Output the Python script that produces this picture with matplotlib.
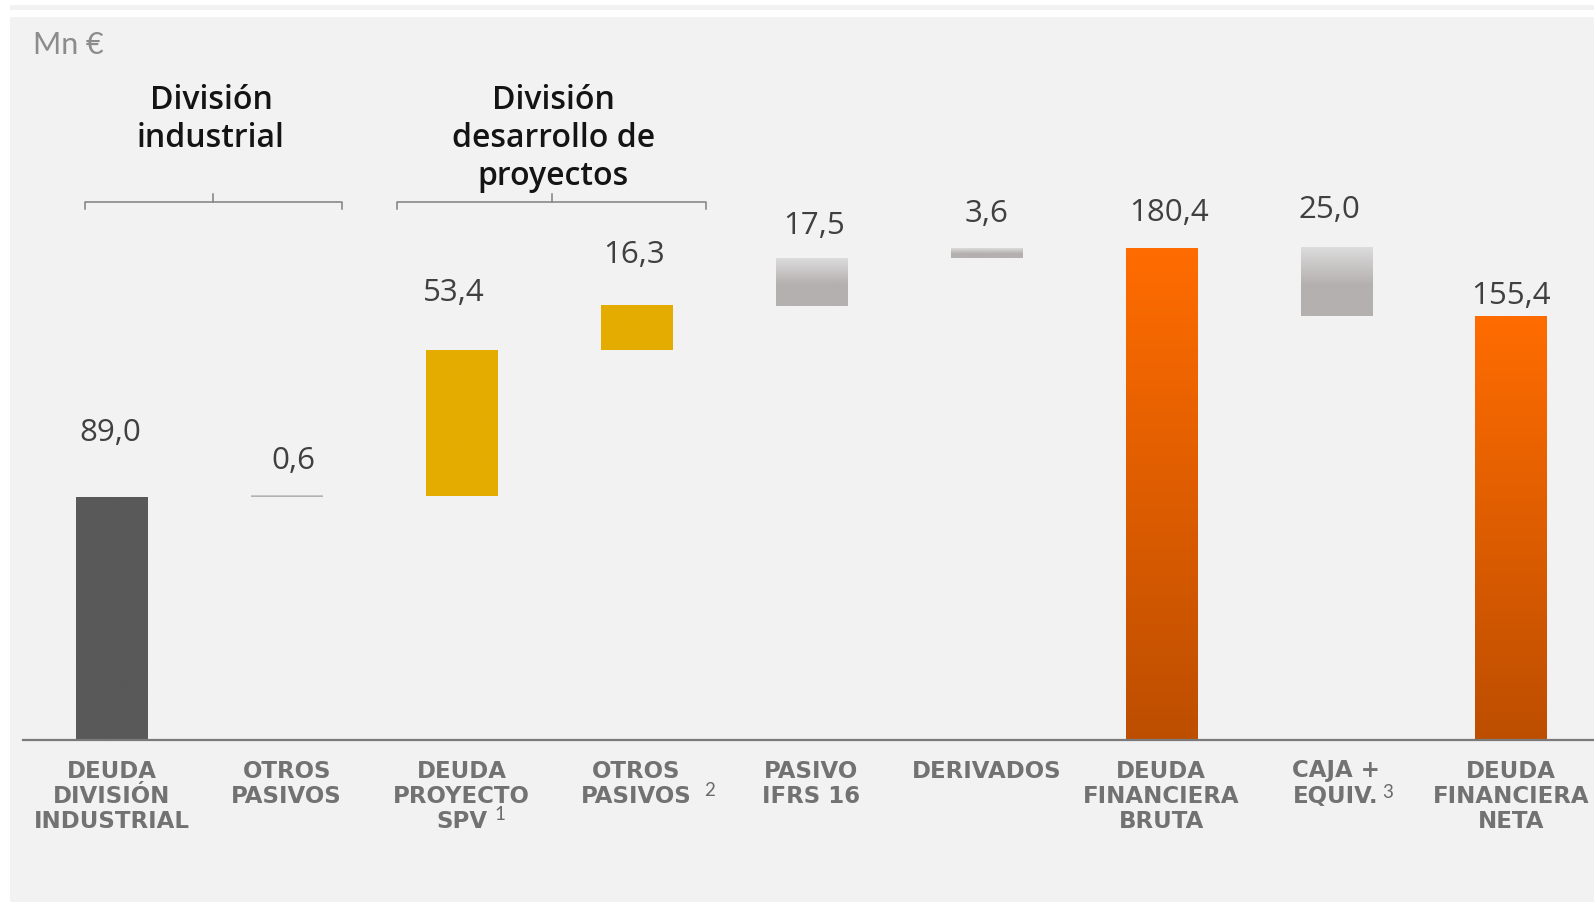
import numpy as np
import matplotlib
matplotlib.use("Agg")
import matplotlib.pyplot as plt
from matplotlib.colors import to_rgb
from matplotlib.patches import Rectangle
from matplotlib.lines import Line2D

# ---------------- data ----------------
categories = ["DEUDA\nDIVISIÓN\nINDUSTRIAL", "OTROS\nPASIVOS", "DEUDA\nPROYECTO\nSPV",
              "OTROS\nPASIVOS", "PASIVO\nIFRS 16", "DERIVADOS",
              "DEUDA\nFINANCIERA\nBRUTA", "CAJA +\nEQUIV.", "DEUDA\nFINANCIERA\nNETA"]
values = [89.0, 0.6, 53.4, 16.3, 17.5, 3.6, 180.4, -25.0, 155.4]
kinds = ["start", "step", "step", "step", "step", "step", "total", "step", "total"]
value_labels = ["89,0", "0,6", "53,4", "16,3", "17,5", "3,6", "180,4", "25,0", "155,4"]
footnotes = ["", "", "1", "2", "", "", "", "3", ""]
group_titles = ["División\nindustrial", "División\ndesarrollo de\nproyectos"]
group_members = [(0, 1), (2, 3)]
unit_label = "Mn €"

# ---------------- styles / layout ----------------
fills = ["dark", "gray", "gold", "gold", "gray", "gray", "orange", "gray", "orange"]
label_dx = [-1, 7, -8, -2, 3, 0, 8, -7, 0]              # px
label_base_gap = [56, 27, 49, 43, 23.5, 25.7, 27.3, 29.7, 12.7]  # px, bar top -> baseline
foot_dx = [0, 0, 38.5, 73.5, 0, 0, 0, 51.6, 0]          # px from bar centre
foot_dy = [0, 0, -74.5, -51, 0, 0, 0, -52, 0]           # px from axis line (centre)
bracket_ext = [(-0.151, 0.314, 0.08), (-0.371, 0.398, 0.015)]
header_dx = [0.067, 0.023]
header_baselines = [109, 147, 185]   # px from top of figure
cat_first_base = 37.5                # px below axis line
cat_line_step = 25.5

W, H = 1594, 902
fig = plt.figure(figsize=(W / 100, H / 100), dpi=100)
fig.patch.set_facecolor("white")

# background panel and top strip
fig.patches.append(Rectangle((10 / W, 0), 1, (H - 17) / H, transform=fig.transFigure,
                             facecolor="#f2f2f2", edgecolor="none", zorder=-10))
fig.patches.append(Rectangle((10 / W, (H - 10) / H), 1, 5 / H, transform=fig.transFigure,
                             facecolor="#f2f2f2", edgecolor="none", zorder=-10))

px_per_unit = 2.727
base_px = 162                 # axis line, px from bottom
axis_top_from_top = H - base_px
top_px = H - 17
ax_left, ax_right = 23, W
ax = fig.add_axes([ax_left / W, base_px / H, (ax_right - ax_left) / W, (top_px - base_px) / H])
ax.set_facecolor("none")
spacing = 174.9
c0 = 111.8
xlim = ((ax_left - c0) / spacing, (ax_right - c0) / spacing)
ylim = (0, (top_px - base_px) / px_per_unit)
for s in ["top", "right", "left"]:
    ax.spines[s].set_visible(False)
ax.spines["bottom"].set_color("#7a7a7a")
ax.spines["bottom"].set_linewidth(1.6)
ax.set_xticks([])
ax.set_yticks([])

# waterfall geometry
bottoms, tops = [], []
running = 0.0
for v, k in zip(values, kinds):
    if k in ("start", "total"):
        b, t = 0.0, v
        running = v
    else:
        b, t = (running, running + v) if v >= 0 else (running + v, running)
        running += v
    bottoms.append(b)
    tops.append(t)

bw = 0.406
N = 256

def grad_img(kind):
    t = np.linspace(0, 1, N)[:, None]  # 0 bottom, 1 top
    if kind == "gray":
        top_c = np.array(to_rgb("#dcdcdc"))
        mid_c = np.array(to_rgb("#b4b0af"))
        f = np.clip((t - 0.45) / 0.55, 0, 1)
        col = mid_c + (top_c - mid_c) * f
    elif kind == "orange":
        top_c = np.array(to_rgb("#ff6c00"))
        bot_c = np.array(to_rgb("#bd4e00"))
        col = bot_c + (top_c - bot_c) * t
    elif kind == "gold":
        col = np.tile(np.array(to_rgb("#e5ac00")), (N, 1))
    else:
        col = np.tile(np.array(to_rgb("#595959")), (N, 1))
    return col.reshape(N, 1, 3)

VAL_FONT = ["Open Sans", "DejaVu Sans"]
CAT_FONT = ["DejaVu Sans"]
HEAD_FONT = ["Open Sans", "DejaVu Sans"]
THIN_FONT = ["Lato", "DejaVu Sans"]

for i, (b, t) in enumerate(zip(bottoms, tops)):
    ax.imshow(grad_img(fills[i]), extent=[i - bw / 2, i + bw / 2, b, t],
              origin="lower", aspect="auto", interpolation="bilinear", zorder=2)
    ax.annotate(value_labels[i], xy=(i, t), xytext=(label_dx[i], label_base_gap[i]),
                textcoords="offset pixels", ha="center", va="baseline",
                fontsize=22.5, color="#404040", family=VAL_FONT)
    for k, line in enumerate(categories[i].split("\n")):
        ax.annotate(line, xy=(i, 0), xycoords=("data", "axes fraction"),
                    xytext=(0, -(cat_first_base + k * cat_line_step)), textcoords="offset pixels",
                    ha="center", va="baseline", fontsize=16.5, color="#727272",
                    fontweight="bold", family=CAT_FONT, annotation_clip=False)
    if footnotes[i]:
        ax.annotate(footnotes[i], xy=(i, 0), xycoords=("data", "axes fraction"),
                    xytext=(foot_dx[i], foot_dy[i]), textcoords="offset pixels",
                    ha="center", va="center", fontsize=13.5, color="#6a6a6a",
                    family=THIN_FONT, fontweight="normal", annotation_clip=False)

ax.set_xlim(*xlim)
ax.set_ylim(*ylim)

# group headers and brackets
bracket_y = (H - 201.7 - base_px) / px_per_unit
tick = 7.3 / px_per_unit
for gi, ((a, b_), title, (lo, hi, mo)) in enumerate(zip(group_members, group_titles, bracket_ext)):
    x0 = a + lo
    x1 = b_ + hi
    xm = (a + b_) / 2 + mo
    ax.add_line(Line2D([x0, x0, x1, x1], [bracket_y - tick, bracket_y, bracket_y, bracket_y - tick],
                       color="#808080", lw=1.1, clip_on=False, solid_joinstyle="round"))
    ax.add_line(Line2D([xm, xm], [bracket_y, bracket_y + tick], color="#808080", lw=1.1,
                       clip_on=False))
    xc = (a + b_) / 2 + header_dx[gi]
    for k, line in enumerate(title.split("\n")):
        ax.annotate(line, xy=(xc, 0), xycoords=("data", "axes fraction"),
                    xytext=(0, axis_top_from_top - header_baselines[k]),
                    textcoords="offset pixels", ha="center", va="baseline",
                    fontsize=23, fontweight="semibold", color="#141414",
                    family=HEAD_FONT, annotation_clip=False)

fig.text(33 / W, 1 - 54.5 / H, unit_label, ha="left", va="baseline", fontsize=22,
         color="#8c8c8c", family=THIN_FONT, fontweight="normal")

fig.savefig("out.png", dpi=100, facecolor=fig.get_facecolor())
